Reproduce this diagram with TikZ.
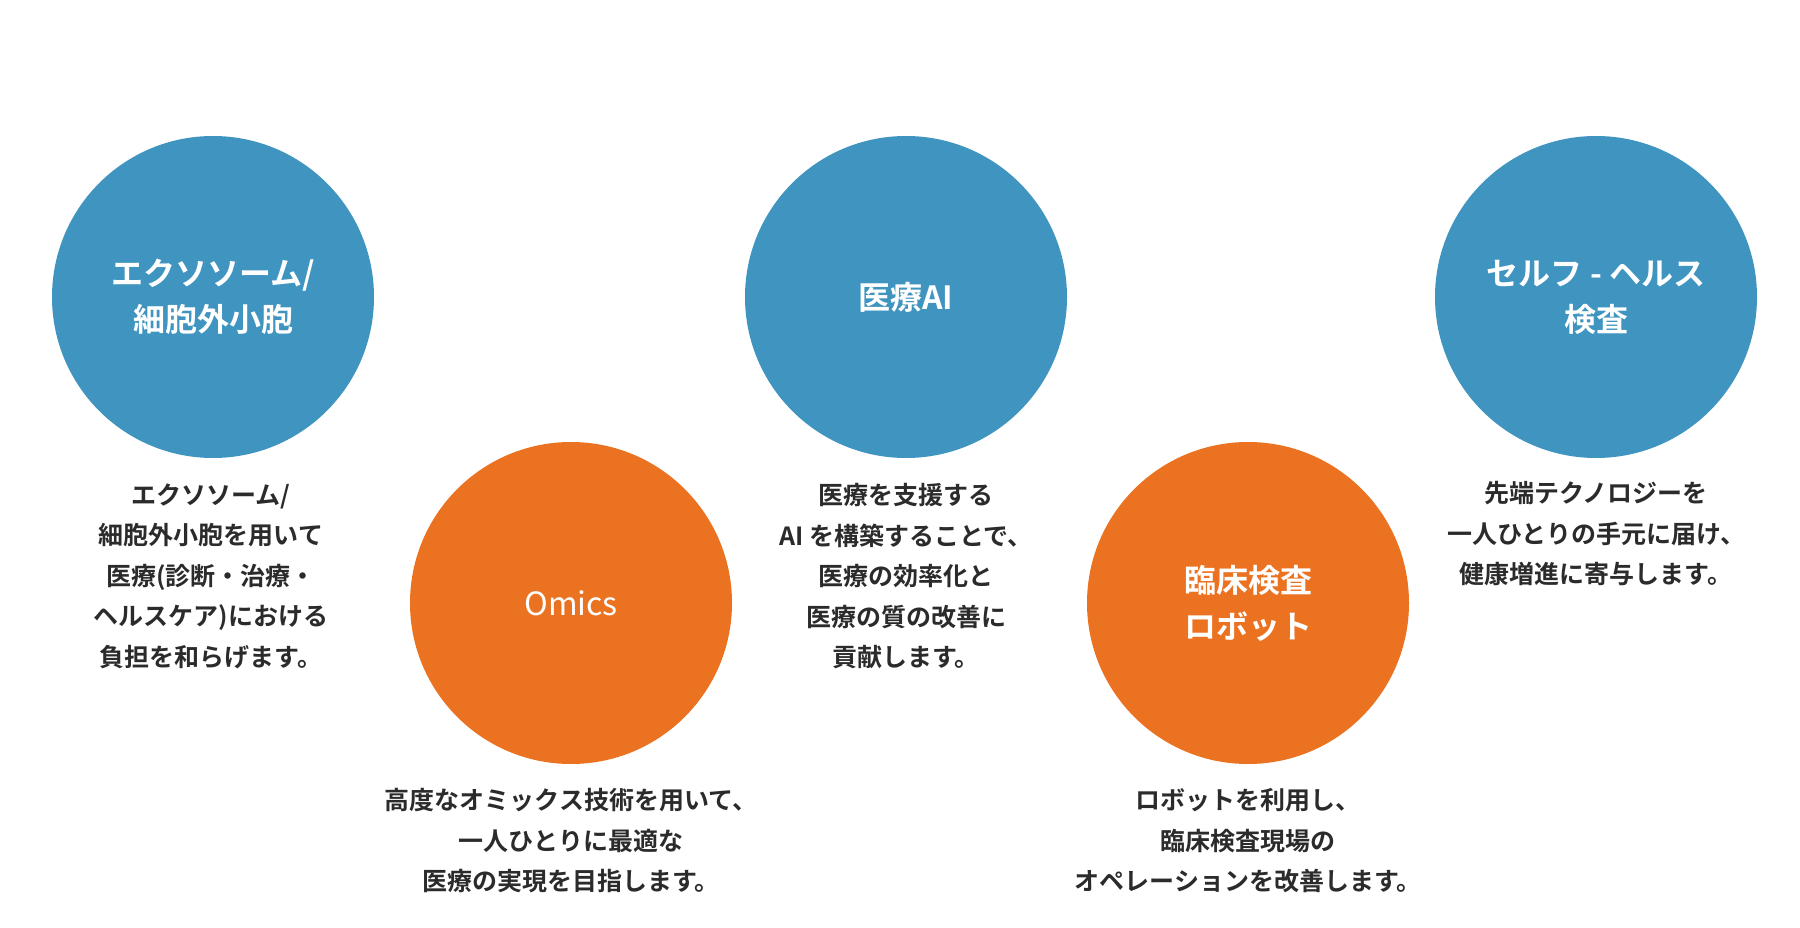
\documentclass[tikz,border=0pt]{standalone}
\usepackage{fontspec}
\setmainfont{Noto Sans CJK JP}[BoldFont={Noto Sans CJK JP Bold}]
\definecolor{cblue}{HTML}{3F94C0}
\definecolor{corange}{HTML}{EB7221}
\definecolor{ctext}{HTML}{2B2B2B}
\begin{document}
\begin{tikzpicture}[x=1pt,y=-1pt,
  circ/.style={circle,minimum size=322pt,inner sep=0pt,text=white,font=\fontsize{32}{46}\selectfont\bfseries,align=center},
  desc/.style={anchor=north,align=center,text=ctext,font=\fontsize{25}{40.5}\selectfont\bfseries}]
\useasboundingbox (0,0) rectangle (1800,928);
\node[circ,fill=cblue] (c1) at (213,297) {エクソソーム/\\細胞外小胞};
\node[circ,fill=corange] (c2) at (571,603) {\mdseries Omics};
\node[circ,fill=cblue] (c3) at (906,297) {医療AI};
\node[circ,fill=corange] (c4) at (1248,603) {臨床検査\\ロボット};
\node[circ,fill=cblue] (c5) at (1596,297) {セルフ - ヘルス\\検査};
\node[desc] (t1) at (211,480) {エクソソーム/\\細胞外小胞を用いて\\医療(診断・治療・\\ヘルスケア)における\\負担を和らげます。};
\node[desc] (t2) at (571,785) {高度なオミックス技術を用いて、\\一人ひとりに最適な\\医療の実現を目指します。};
\node[desc] (t3) at (906,480) {医療を支援する\\AI を構築することで、\\医療の効率化と\\医療の質の改善に\\貢献します。};
\node[desc] (t4) at (1248,785) {ロボットを利用し、\\臨床検査現場の\\オペレーションを改善します。};
\node[desc] (t5) at (1596,478) {先端テクノロジーを\\一人ひとりの手元に届け、\\健康増進に寄与します。};
\end{tikzpicture}
\end{document}
